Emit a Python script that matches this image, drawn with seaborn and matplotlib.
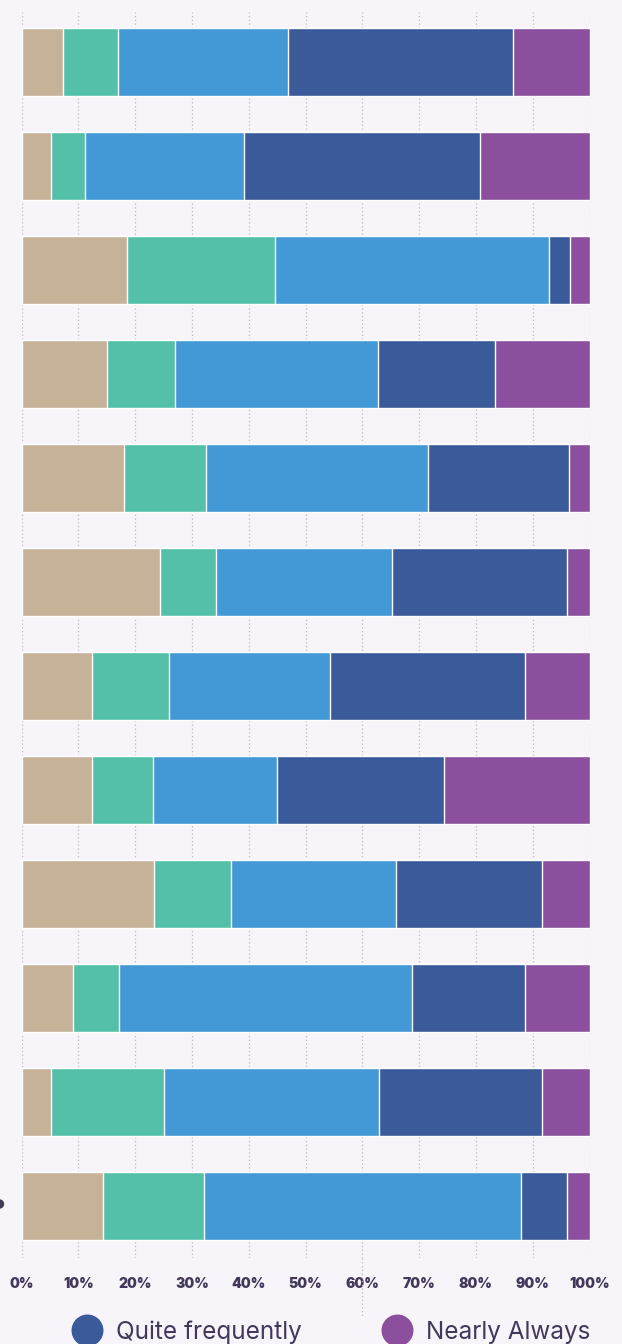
import matplotlib
matplotlib.use("Agg")
import matplotlib.pyplot as plt
from matplotlib.lines import Line2D
from matplotlib.patches import Ellipse
import pandas as pd
import seaborn as sns

# valores (porcentaje por fila, suma 100)
questions = ["Q1", "Q2", "Q3", "Q4", "Q5", "Q6", "Q7", "Q8", "Q9", "Q10", "Q11", "Q12"]
never = [7.3, 5.2, 18.6, 15.1, 18.1, 24.4, 12.4, 12.4, 23.4, 9.0, 5.2, 14.4]
rarely = [9.7, 6.0, 26.1, 12.0, 14.4, 9.9, 13.6, 10.8, 13.4, 8.2, 19.9, 17.8]
sometimes = [30.0, 27.9, 48.1, 35.6, 39.0, 31.0, 28.4, 21.7, 29.2, 51.5, 37.9, 55.8]
quite_frequently = [39.6, 41.7, 3.7, 20.6, 24.9, 30.7, 34.2, 29.4, 25.7, 20.0, 28.7, 8.0]
nearly_always = [13.4, 19.2, 3.5, 16.7, 3.6, 4.0, 11.4, 25.7, 8.3, 11.3, 8.3, 4.0]

series_names = ["Never", "Rarely", "Sometimes", "Quite frequently", "Nearly Always"]
colors = ["#C6B298", "#54C0A9", "#4399D6", "#3A5A99", "#8B4F9E"]
tick_labels = ["0%", "10%", "20%", "30%", "40%", "50%", "60%", "70%", "80%", "90%", "100%"]

bg = "#F7F5FA"
text_color = "#43375A"

df = pd.DataFrame({
    "question": questions,
    "Never": never,
    "Rarely": rarely,
    "Sometimes": sometimes,
    "Quite frequently": quite_frequently,
    "Nearly Always": nearly_always,
})

# acumulados para apilar las barras
cum = df[series_names].cumsum(axis=1)

sns.set_style("white")
plt.rcParams["font.family"] = ["Inter", "DejaVu Sans"]

fig = plt.figure(figsize=(6.22, 13.44), dpi=100, facecolor=bg)
ax = fig.add_axes([21.5 / 622, 1 - 1258 / 1344, 568 / 622, 1246 / 1344])
ax.set_facecolor(bg)

# dibujar de la capa mas larga a la mas corta
for name, color in reversed(list(zip(series_names, colors))):
    sns.barplot(x=cum[name], y=df["question"], color=color, orient="h",
                width=0.654, saturation=1, ax=ax, zorder=2)

ax.set_xlim(0, 100)
ax.set_ylim(11.5, -0.48)
ax.set_xticks(range(0, 101, 10))
ax.set_xticklabels(tick_labels, fontsize=10, fontweight=900, color=text_color)
ax.set_yticks([])
ax.set_xlabel("")
ax.set_ylabel("")
ax.tick_params(axis="x", length=0, pad=14)
ax.grid(axis="x", color="#BDB9C6", linestyle=(0, (1, 2)), linewidth=0.9, zorder=0)
ax.set_axisbelow(True)
for s in ax.spines.values():
    s.set_visible(False)

# linea suelta bajo el 60%
ax.plot([60, 60], [0, -0.048], transform=ax.get_xaxis_transform(), clip_on=False,
        color="#BDB9C6", linestyle=(0, (1, 2)), linewidth=0.9)

# punto cortado a la izquierda
fig.add_artist(Ellipse((-0.5 / 622, 1 - 1204 / 1344), 8 / 622, 8 / 1344,
                       transform=fig.transFigure, color=text_color))

handles = [Line2D([], [], marker="o", linestyle="", markersize=22,
                  markerfacecolor=c, markeredgecolor=c) for c in colors[3:]]
leg = fig.legend(handles, series_names[3:], loc="center", ncol=2,
                 bbox_to_anchor=(326.5 / 622, 1 - 1332 / 1344), frameon=False,
                 handlelength=2, handletextpad=0.2,
                 columnspacing=2.9, borderpad=0, labelcolor=text_color,
                 prop={"weight": "normal", "size": 17.5})

fig.savefig("out.png", dpi=100, facecolor=bg)
